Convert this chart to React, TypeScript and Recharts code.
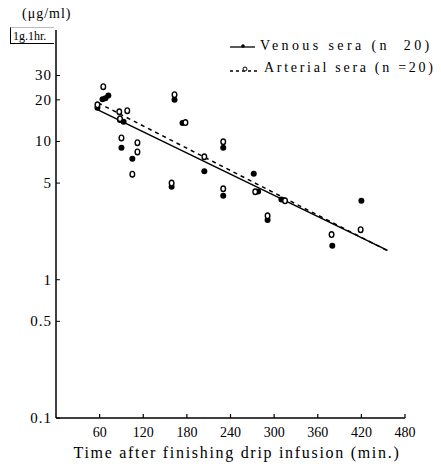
import React from "react";
import { ComposedChart, XAxis, YAxis, Scatter, Line } from "recharts";

const xTicks = [60, 120, 180, 240, 300, 360, 420, 480];
const yTicks = [0.1, 0.5, 1, 5, 10, 20, 30];
const yTickLabels = ["0.1", "0.5", "1", "5", "10", "20", "30"];

const venousTimes = [57, 64, 68, 72, 88, 93, 90, 105, 163, 174, 159, 204, 230, 230, 272, 278, 310, 291, 380, 420];
const venousValues = [17.5, 20.2, 20.5, 21.5, 14.3, 13.9, 9.0, 7.5, 20.0, 13.6, 4.7, 6.1, 9.0, 4.05, 5.85, 4.35, 3.8, 2.7, 1.76, 3.72];

const arterialTimes = [65, 57, 87, 98, 88, 90, 112, 112, 105, 163, 178, 159, 204, 230, 230, 274, 315, 291, 379, 419];
const arterialValues = [24.9, 18.4, 16.4, 16.7, 14.6, 10.6, 9.8, 8.4, 5.8, 21.8, 13.7, 5.0, 7.75, 9.95, 4.55, 4.33, 3.72, 2.9, 2.12, 2.3];

const venousFitTimes = [57, 456];
const venousFitValues = [17.0, 1.63];
const arterialFitTimes = [58, 456];
const arterialFitValues = [19.0, 1.62];

const zip = (ts: number[], vs: number[]) => ts.map((t, i) => ({ t, v: vs[i] }));

const venousData = zip(venousTimes, venousValues);
const arterialData = zip(arterialTimes, arterialValues);
const venousFit = zip(venousFitTimes, venousFitValues);
const arterialFit = zip(arterialFitTimes, arterialFitValues);

const FONT = "'Liberation Serif', 'DejaVu Serif', serif";

const XTick = (props: any) => {
  const { x, y, payload } = props;
  return (
    <g>
      <line x1={x} y1={y} x2={x} y2={y - 4} stroke="#000" strokeWidth={1.2} />
      <text x={x} y={y + 19} textAnchor="middle" fontSize={14} fontFamily={FONT} fill="#000">
        {payload.value}
      </text>
    </g>
  );
};

const YTick = (props: any) => {
  const { x, y, payload } = props;
  const idx = yTicks.indexOf(payload.value);
  const label = idx >= 0 ? yTickLabels[idx] : String(payload.value);
  return (
    <g>
      <line x1={x} y1={y} x2={x + 4} y2={y} stroke="#000" strokeWidth={1} />
      <text x={x - 4} y={y + 5} textAnchor="end" fontSize={15} fontFamily={FONT} fill="#000" letterSpacing={1}>
        {label}
      </text>
    </g>
  );
};

const OpenDot = (props: any) => {
  const { cx, cy } = props;
  return <ellipse cx={cx} cy={cy} rx={2.3} ry={2.8} fill="#fff" stroke="#000" strokeWidth={1.4} />;
};

const FilledDot = (props: any) => {
  const { cx, cy } = props;
  return <circle cx={cx} cy={cy} r={3} fill="#000" />;
};

export default function App() {
  return (
    <div style={{ position: "absolute", left: 0, top: 0, width: 441, height: 470, background: "#fff", fontFamily: FONT }}>
      <ComposedChart
        width={441}
        height={470}
        margin={{ top: 30, right: 36, left: 6, bottom: 22 }}
      >
        <XAxis
          dataKey="t"
          type="number"
          domain={[0, 480]}
          ticks={xTicks}
          allowDataOverflow
          tickSize={0}
          tickMargin={0}
          tick={<XTick />}
          axisLine={{ stroke: "#000", strokeWidth: 1.5 }}
          tickLine={false}
          height={30}
        />
        <YAxis
          dataKey="v"
          type="number"
          scale="log"
          domain={[0.1, 64]}
          ticks={yTicks}
          allowDataOverflow
          tickSize={0}
          tickMargin={0}
          tick={<YTick />}
          axisLine={{ stroke: "#000", strokeWidth: 1.5 }}
          tickLine={false}
          width={50}
        />
        <Line
          data={arterialFit}
          dataKey="v"
          stroke="#000"
          strokeWidth={1.5}
          strokeDasharray="4 4"
          dot={false}
          isAnimationActive={false}
        />
        <Line
          data={venousFit}
          dataKey="v"
          stroke="#000"
          strokeWidth={1.5}
          dot={false}
          isAnimationActive={false}
        />
        <Scatter data={venousData} dataKey="v" shape={<FilledDot />} isAnimationActive={false} />
        <Scatter data={arterialData} dataKey="v" shape={<OpenDot />} isAnimationActive={false} />
      </ComposedChart>

      <div style={{ position: "absolute", left: 22, top: 5, fontSize: 14, lineHeight: "18px", letterSpacing: 1 }}>(μg/ml)</div>
      <div
        style={{
          position: "absolute",
          left: 10,
          top: 27,
          width: 44,
          height: 17,
          borderLeft: "1.5px solid #000",
          borderBottom: "1.5px solid #000",
          borderTop: "1px solid #bbb",
          fontSize: 12,
          lineHeight: "17px",
          paddingLeft: 2,
          boxSizing: "border-box",
        }}
      >
        1g.1hr.
      </div>

      <div style={{ position: "absolute", left: 229, top: 36, display: "flex", alignItems: "center", height: 20 }}>
        <svg width={28} height={20}>
          <line x1={1} y1={11} x2={26} y2={11} stroke="#000" strokeWidth={1.3} />
          <circle cx={14} cy={10} r={1.8} fill="#000" />
        </svg>
        <span style={{ fontSize: 14, letterSpacing: 3.4, marginLeft: 3, whiteSpace: "nowrap" }}>Venous sera (n&nbsp;&nbsp;20)</span>
      </div>
      <div style={{ position: "absolute", left: 229, top: 58, display: "flex", alignItems: "center", height: 20 }}>
        <svg width={32} height={20}>
          <line x1={1} y1={13} x2={30} y2={13} stroke="#000" strokeWidth={1.3} strokeDasharray="3 3" />
          <ellipse cx={16} cy={11} rx={2} ry={2} fill="#fff" stroke="#000" strokeWidth={1} />
        </svg>
        <span style={{ fontSize: 14, letterSpacing: 2.7, marginLeft: 3, whiteSpace: "nowrap" }}>Arterial sera (n =20)</span>
      </div>

      <div
        style={{
          position: "absolute",
          left: 0,
          width: 474,
          top: 443,
          textAlign: "center",
          fontSize: 16,
          lineHeight: "20px",
          letterSpacing: 1.7,
          whiteSpace: "nowrap",
        }}
      >
        Time after finishing drip infusion (min.)
      </div>
    </div>
  );
}
